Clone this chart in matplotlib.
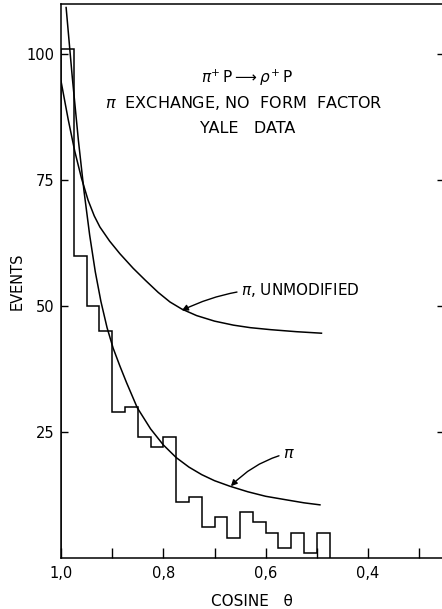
import matplotlib
matplotlib.use("Agg")
import matplotlib.pyplot as plt

# Histogram (bin edges in cos theta, counts per bin)
bin_edges = [1.0, 0.975, 0.95, 0.925, 0.9, 0.875, 0.85, 0.825, 0.8, 0.775, 0.75,
             0.725, 0.7, 0.675, 0.65, 0.625, 0.6, 0.575, 0.55, 0.525, 0.5, 0.475]
counts = [101, 60, 50, 45, 29, 30, 24, 22, 24, 11, 12, 6, 8, 4, 9, 7, 5, 2, 5, 1, 5]

# Curve: pi exchange (no form factor)
pi_cos = [0.990, 0.978, 0.966, 0.955, 0.944, 0.933, 0.922, 0.910, 0.898, 0.885,
          0.872, 0.851, 0.825, 0.800, 0.775, 0.750, 0.725, 0.700, 0.670, 0.635,
          0.600, 0.560, 0.525, 0.494]
pi_ev = [109.3, 95.5, 82.9, 72.8, 64.1, 56.8, 50.9, 45.7, 41.6, 38.1,
         34.8, 29.8, 25.6, 22.4, 19.9, 18.0, 16.5, 15.3, 14.2, 13.1,
         12.2, 11.5, 10.9, 10.5]

# Curve: pi, unmodified
unm_cos = [1.000, 0.986, 0.973, 0.960, 0.947, 0.935, 0.924, 0.905, 0.885, 0.859,
           0.835, 0.810, 0.787, 0.764, 0.735, 0.700, 0.663, 0.630, 0.590, 0.540,
           0.491]
unm_ev = [94.7, 87.1, 80.7, 75.4, 71.0, 67.9, 65.7, 62.9, 60.4, 57.5,
          55.1, 52.7, 50.8, 49.4, 48.1, 47.0, 46.2, 45.7, 45.3, 44.9,
          44.6]

x_major = [1.0, 0.8, 0.6, 0.4]
x_major_labels = ["1,0", "0,8", "0,6", "0,4"]
x_minor = [0.9, 0.7, 0.5, 0.3]
y_ticks = [25, 50, 75, 100]

plt.rcParams['font.family'] = ['DejaVu Sans']
fig = plt.figure(figsize=(4.42, 6.09), dpi=100)
ax = fig.add_axes([61/442, (609-557.7)/609, (442-61)/442 + 0.004, (557.7-4)/609])

lw = 1.1
# Histogram steps
xs = [bin_edges[0]]
ys = [0]
for i, c in enumerate(counts):
    xs += [bin_edges[i], bin_edges[i+1]]
    ys += [c, c]
xs.append(bin_edges[-1]); ys.append(0)
ax.plot(xs, ys, color='black', lw=lw, solid_joinstyle='miter')

ax.plot(pi_cos, pi_ev, color='black', lw=lw, solid_joinstyle='round')
ax.plot(unm_cos, unm_ev, color='black', lw=lw, solid_joinstyle='round')

ax.set_xlim(1.0, 0.252)
ax.set_ylim(0, 110)

ax.set_xticks(x_major)
ax.set_xticklabels(x_major_labels)
ax.set_xticks(x_minor, minor=True)
ax.set_yticks(y_ticks)
ax.set_yticklabels([str(v) for v in y_ticks])

ax.tick_params(axis='x', which='both', direction='in', length=7.5, width=1.0,
               labelsize=10.5, pad=6, top=False)
ax.tick_params(axis='y', which='both', direction='in', length=5, width=1.0,
               labelsize=10.5, pad=5, right=True)
for s in ['left', 'bottom', 'top']:
    ax.spines[s].set_linewidth(1.1)
ax.spines['right'].set_visible(False)

ax.set_xlabel("COSINE   θ", fontsize=11, labelpad=9)
ax.set_ylabel("EVENTS", fontsize=10.5, labelpad=1)

# Text block
ax.text(0.636, 95.3, r"$\pi^{+}\,\mathrm{P}\longrightarrow\rho^{+}\,\mathrm{P}$",
        ha='center', va='center', fontsize=11)
ax.text(0.642, 90.4, r"$\pi$  EXCHANGE, NO  FORM  FACTOR", ha='center', va='center',
        fontsize=11.5)
ax.text(0.636, 85.2, "YALE   DATA", ha='center', va='center', fontsize=11.5)

# Annotations
ax.annotate(r"$\pi$, UNMODIFIED", xy=(0.764, 49.1), xytext=(0.648, 53.1),
            ha='left', va='center', fontsize=11,
            arrowprops=dict(arrowstyle='-|>', color='black', lw=1.0,
                            mutation_scale=9, shrinkA=1, shrinkB=0,
                            connectionstyle='arc3,rad=0.15'))
ax.annotate(r"$\pi$", xy=(0.668, 14.2), xytext=(0.566, 20.8),
            ha='left', va='center', fontsize=11.5,
            arrowprops=dict(arrowstyle='-|>', color='black', lw=1.0,
                            mutation_scale=9, shrinkA=1, shrinkB=0,
                            connectionstyle='arc3,rad=0.15'))

fig.savefig("out.png", dpi=100)
